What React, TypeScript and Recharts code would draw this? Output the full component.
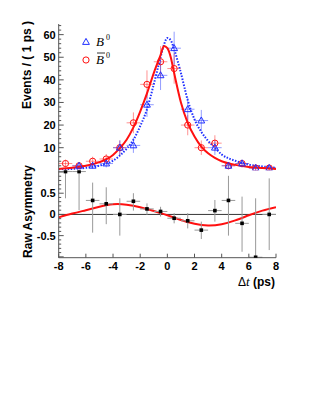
import React from 'react';
import { ComposedChart, Line, Scatter, ErrorBar, XAxis, YAxis, ReferenceLine } from 'recharts';

const FONT = '"Liberation Sans", Arial, Helvetica, sans-serif';

// bin centres, dt in ps
const bins = [-7.5, -6.5, -5.5, -4.5, -3.5, -2.5, -1.5, -0.5, 0.5, 1.5, 2.5, 3.5, 4.5, 5.5, 6.5, 7.5];

// B0 (blue triangles)
const b0Counts = [null, 2, 2, 3, 10, 11, 29, 42, 54, 27, 22, 10, 2, 3, 1, 1];
const b0Err = [null, 1.4, 1.4, 1.7, 3.2, 3.3, 5.4, 6.5, 7.3, 5.2, 4.7, 3.2, 1.4, 1.7, 1, 1];
// B0bar (red circles)
const b0barCounts = [3, 2, 4, 5, 10, 21, 38, 48, 45, 20, 10, 12, 2, 3, 1, 1];
const b0barErr = [1.7, 1.4, 2, 2.2, 3.2, 4.6, 6.2, 6.9, 6.7, 4.5, 3.2, 3.5, 1.4, 1.7, 1, 1];

// fit curves
const b0FitT = [-8, -7, -6, -5, -4, -3.5, -3, -2.5, -2, -1.5, -1, -0.5, -0.25, 0, 0.25, 0.5, 1, 1.5, 2, 2.5, 3, 3.5, 4, 4.5, 5, 5.5, 6, 7, 8];
const b0FitV = [0.3, 0.6, 1.1, 2.1, 4.3, 6.5, 9.5, 13.5, 19.5, 27, 38, 50, 55.5, 58.5, 57.5, 53.5, 43, 31, 22.5, 17, 13, 10, 7, 5.3, 4.2, 3.2, 2.5, 1.7, 1.1];
const b0barFitT = [-8, -7, -6, -5, -4, -3.5, -3, -2.5, -2, -1.5, -1, -0.5, -0.25, 0, 0.25, 0.5, 1, 1.5, 2, 2.5, 3, 3.5, 4, 5, 6, 7, 8];
const b0barFitV = [0.6, 1.1, 2.0, 3.6, 6.8, 9.8, 13.5, 19, 26, 34, 43, 51, 55, 54, 50, 43, 30, 21, 15, 10.5, 7.5, 5.5, 4, 2.4, 1.5, 1.0, 0.6];

// raw asymmetry
const asym = [1.01, 1.01, 0.33, 0.25, 0.0, 0.31, 0.13, 0.07, -0.09, -0.15, -0.37, 0.09, 0.33, -0.21, -1.01, 0.0];
const asymErrLo = [0.63, 0.91, 0.76, 0.48, 0.5, 0.22, 0.14, 0.12, 0.12, 0.18, 0.21, 0.26, 0.83, 0.67, 0.01, 0.84];
const asymErrHi = [0.03, 0.03, 0.42, 0.39, 0.38, 0.19, 0.13, 0.11, 0.12, 0.18, 0.2, 0.25, 0.58, 0.63, 1.39, 0.85];
const asymFitT = [-8, -7, -6, -5, -4, -3, -2, -1, 0, 1, 2, 3, 4, 5, 6, 7, 8];
const asymFitV = [-0.07, 0.02, 0.1, 0.18, 0.24, 0.23, 0.17, 0.08, -0.02, -0.13, -0.22, -0.26, -0.23, -0.14, -0.02, 0.09, 0.17];

// ticks
const xTicks = [-8, -6, -4, -2, 0, 2, 4, 6, 8];
const evTicks = [2, 4, 6, 8, 10, 12, 14, 16, 18, 20, 22, 24, 26, 28, 30, 32, 34, 36, 38, 40, 42, 44, 46, 48, 50, 52, 54, 56, 58, 60, 62, 64];
const evMajor = [10, 20, 30, 40, 50, 60];
const asTicks = [-1, -0.9, -0.8, -0.7, -0.6, -0.5, -0.4, -0.3, -0.2, -0.1, 0, 0.1, 0.2, 0.3, 0.4, 0.5, 0.6, 0.7, 0.8, 0.9, 1];
const asMajor = [-1, -0.5, 0, 0.5, 1];
const asLabels = [-0.5, 0, 0.5];

const b0Pts = bins.map((t, i) => ({ t, v: b0Counts[i], ex: 0.5, ey: b0Err[i] })).filter(p => p.v !== null);
const b0barPts = bins.map((t, i) => ({ t, v: b0barCounts[i], ex: 0.5, ey: b0barErr[i] }));
const asymPts = bins.map((t, i) => ({ t, v: asym[i], ex: 0.5, ey: [asymErrLo[i], asymErrHi[i]] }));
const b0Fit = b0FitT.map((t, i) => ({ t, v: b0FitV[i] }));
const b0barFit = b0barFitT.map((t, i) => ({ t, v: b0barFitV[i] }));
const asymFit = asymFitT.map((t, i) => ({ t, v: asymFitV[i] }));

const FRAME = '#555';
const BLUE = '#2030ff';
const RED = '#ff1010';
const SERIF = '"Liberation Serif", "Times New Roman", serif';

const labelStyle = { fontFamily: FONT, fontWeight: 700, fontSize: 11, fill: '#000' };

const leftTick = (majors: number[], labels: number[]) => (p: any) => {
  const v = p.payload.value;
  const len = majors.includes(v) ? 5 : 2.5;
  return (
    <g>
      <line x1={p.x} y1={p.y} x2={p.x + len} y2={p.y} stroke={FRAME} />
      {labels.includes(v) && (
        <text x={p.x - 3} y={p.y + 4} textAnchor="end" style={labelStyle}>{String(v)}</text>
      )}
    </g>
  );
};

const rightTick = (majors: number[]) => (p: any) => {
  const len = majors.includes(p.payload.value) ? 5 : 2.5;
  return <line x1={p.x} y1={p.y} x2={p.x - len} y2={p.y} stroke={FRAME} />;
};

const downTick = (p: any) => <line x1={p.x} y1={p.y} x2={p.x} y2={p.y + 4} stroke={FRAME} />;
const upTick = (p: any) => <line x1={p.x} y1={p.y} x2={p.x} y2={p.y - 4} stroke={FRAME} />;
const bottomTick = (p: any) => (
  <g>
    <line x1={p.x} y1={p.y} x2={p.x} y2={p.y - 4} stroke={FRAME} />
    <text x={p.x} y={p.y + 12.5} textAnchor="middle" style={labelStyle}>{String(p.payload.value)}</text>
  </g>
);

const triShape = (p: any) => (
  <polygon
    points={`${p.cx},${p.cy - 3.6} ${p.cx - 3.4},${p.cy + 2.4} ${p.cx + 3.4},${p.cy + 2.4}`}
    fill="none" stroke={BLUE} strokeWidth={1}
  />
);
const circShape = (p: any) => <circle cx={p.cx} cy={p.cy} r={3.1} fill="none" stroke={RED} strokeWidth={1} />;
const sqShape = (p: any) => <rect x={p.cx - 1.8} y={p.cy - 1.8} width={3.6} height={3.6} fill="#000" />;

const yTitle = (text: string, x: number, y: number) => () => (
  <text transform={`translate(${x}, ${y}) rotate(-90)`} textAnchor="end"
    style={{ fontFamily: FONT, fontWeight: 700, fontSize: 12, fill: '#000' }}>{text}</text>
);

const TopPanel = () => (
  <ComposedChart width={312} height={403} margin={{ top: 24, right: 36, bottom: 232.7, left: 0 }}>
    <XAxis type="number" dataKey="t" domain={[-8, 8]} allowDataOverflow ticks={xTicks} interval={0}
      height={0} tickSize={0} tickMargin={0} tickLine={false} tick={upTick}
      axisLine={{ stroke: '#000', strokeWidth: 1.5 }} />
    <XAxis xAxisId="top" orientation="top" type="number" dataKey="t" domain={[-8, 8]} allowDataOverflow
      ticks={xTicks} interval={0} height={0} tickSize={0} tickMargin={0} tickLine={false} tick={downTick}
      axisLine={{ stroke: FRAME }} />
    <YAxis type="number" domain={[0, 64.7]} allowDataOverflow ticks={evTicks} interval={0} width={58.7}
      tickSize={0} tickMargin={0} tickLine={false} tick={leftTick(evMajor, evMajor)}
      axisLine={{ stroke: FRAME }} label={{ content: yTitle('Events / ( 1 ps )', 31, 21) }} />
    <YAxis yAxisId="r" orientation="right" type="number" domain={[0, 64.7]} allowDataOverflow ticks={evTicks}
      interval={0} width={0} tickSize={0} tickMargin={0} tickLine={false} tick={rightTick(evMajor)}
      axisLine={{ stroke: FRAME }} />
    <Scatter data={b0barPts} dataKey="v" shape={circShape} isAnimationActive={false}>
      <ErrorBar dataKey="ex" direction="x" width={0} stroke="rgba(255,40,40,0.5)" strokeWidth={1} />
      <ErrorBar dataKey="ey" direction="y" width={0} stroke="rgba(255,40,40,0.5)" strokeWidth={1} />
    </Scatter>
    <Scatter data={b0Pts} dataKey="v" shape={triShape} isAnimationActive={false}>
      <ErrorBar dataKey="ex" direction="x" width={0} stroke="rgba(40,60,255,0.5)" strokeWidth={1} />
      <ErrorBar dataKey="ey" direction="y" width={0} stroke="rgba(40,60,255,0.5)" strokeWidth={1} />
    </Scatter>
    <Line data={b0Fit} dataKey="v" type="monotone" stroke={BLUE} strokeWidth={2} strokeDasharray="1.5 1.5"
      dot={false} activeDot={false} isAnimationActive={false} />
    <Line data={b0barFit} dataKey="v" type="monotone" stroke={RED} strokeWidth={2}
      dot={false} activeDot={false} isAnimationActive={false} />
  </ComposedChart>
);

const BottomPanel = () => (
  <ComposedChart width={312} height={403} margin={{ top: 170.3, right: 36, bottom: 115.3, left: 0 }}>
    <XAxis type="number" dataKey="t" domain={[-8, 8]} allowDataOverflow ticks={xTicks} interval={0}
      height={30} tickSize={0} tickMargin={0} tickLine={false} tick={bottomTick}
      axisLine={{ stroke: FRAME }}
      label={{
        content: () => (
          <text x={275} y={286} textAnchor="end" style={{ fontFamily: FONT, fontWeight: 700, fontSize: 12, fill: '#000' }}>
            <tspan style={{ fontWeight: 400 }}>Δ</tspan>
            <tspan style={{ fontFamily: SERIF, fontStyle: 'italic', fontWeight: 400, fontSize: 13 }}>t</tspan>
            <tspan> (ps)</tspan>
          </text>
        ),
      }} />
    <XAxis xAxisId="top" orientation="top" type="number" dataKey="t" domain={[-8, 8]} allowDataOverflow
      ticks={xTicks} interval={0} height={0} tickSize={0} tickMargin={0} tickLine={false} tick={downTick}
      axisLine={false} />
    <YAxis type="number" domain={[-1.02, 1.04]} allowDataOverflow ticks={asTicks} interval={0} width={58.7}
      tickSize={0} tickMargin={0} tickLine={false} tick={leftTick(asMajor, asLabels)}
      axisLine={{ stroke: FRAME }} label={{ content: yTitle('Raw Asymmetry', 32, 165) }} />
    <YAxis yAxisId="r" orientation="right" type="number" domain={[-1.02, 1.04]} allowDataOverflow ticks={asTicks}
      interval={0} width={0} tickSize={0} tickMargin={0} tickLine={false} tick={rightTick(asMajor)}
      axisLine={{ stroke: FRAME }} />
    <ReferenceLine y={0} stroke="#000" strokeWidth={0.8} />
    <Line data={asymFit} dataKey="v" type="natural" stroke={RED} strokeWidth={2}
      dot={false} activeDot={false} isAnimationActive={false} />
    <Scatter data={asymPts} dataKey="v" shape={sqShape} isAnimationActive={false}>
      <ErrorBar dataKey="ex" direction="x" width={0} stroke="#999" strokeWidth={1} />
      <ErrorBar dataKey="ey" direction="y" width={0} stroke="#999" strokeWidth={1} />
    </Scatter>
  </ComposedChart>
);

const LegendBox = () => (
  <svg width={60} height={40} style={{ position: 'absolute', left: 78, top: 32 }}>
    <polygon points="8,6.4 4.6,12.4 11.4,12.4" fill="none" stroke={BLUE} strokeWidth={1} />
    <text x={18} y={14} style={{ fontFamily: SERIF, fontStyle: 'italic', fontSize: 13 }}>B</text>
    <text x={28} y={8} style={{ fontFamily: SERIF, fontSize: 8 }}>0</text>
    <circle cx={8} cy={28} r={3.1} fill="none" stroke={RED} strokeWidth={1} />
    <line x1={19} y1={21} x2={27} y2={21} stroke="#000" strokeWidth={0.8} />
    <text x={18} y={32} style={{ fontFamily: SERIF, fontStyle: 'italic', fontSize: 13 }}>B</text>
    <text x={28} y={26} style={{ fontFamily: SERIF, fontSize: 8 }}>0</text>
  </svg>
);

export default function App() {
  return (
    <div style={{ position: 'absolute', left: 0, top: 0, width: 312, height: 403, background: '#fff' }}>
      <div style={{ position: 'absolute', left: 0, top: 0 }}><TopPanel /></div>
      <div style={{ position: 'absolute', left: 0, top: 0 }}><BottomPanel /></div>
      <LegendBox />
    </div>
  );
}
